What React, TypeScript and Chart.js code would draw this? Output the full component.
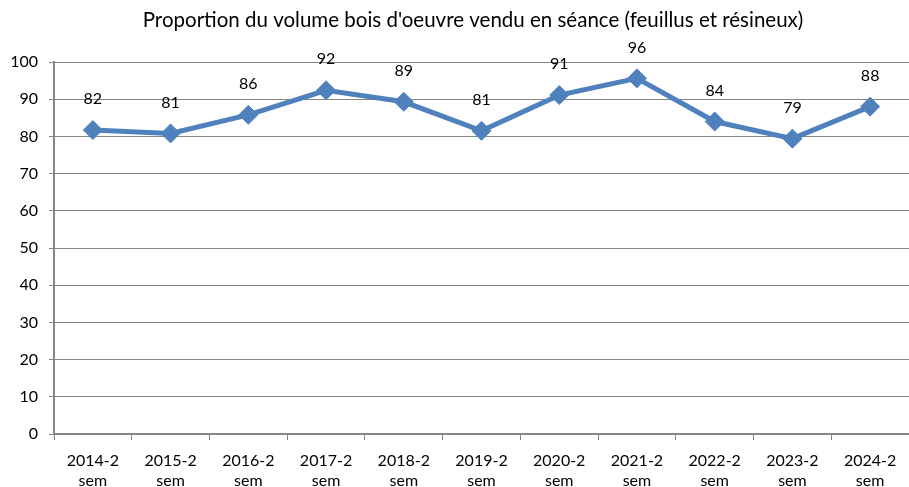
import React, { useEffect, useRef } from "react";
import { Chart, registerables } from "chart.js";

Chart.register(...registerables);

const TITLE = "Proportion du volume bois d'oeuvre vendu en séance (feuillus et résineux)";
const CATEGORIES = ["2014-2", "2015-2", "2016-2", "2017-2", "2018-2", "2019-2", "2020-2", "2021-2", "2022-2", "2023-2", "2024-2"];
const CATEGORY_SUFFIX = "sem";
const VALUES = [81.7, 80.8, 85.8, 92.4, 89.3, 81.5, 91.1, 95.6, 84.0, 79.4, 88.0];
const LABELS = ["82", "81", "86", "92", "89", "81", "91", "96", "84", "79", "88"];

const FONT = "Lato, 'Liberation Sans', Arial, sans-serif";
const BLUE = "#4F81BD";
const GRID = "#868686";
const PLOT_RIGHT = 909;

const labelPlugin = {
  id: "pointLabels",
  afterDatasetsDraw(chart: any) {
    const ctx = chart.ctx;
    const meta = chart.getDatasetMeta(0);
    ctx.save();
    ctx.font = `16px ${FONT}`;
    ctx.fillStyle = "#000";
    ctx.textAlign = "center";
    ctx.textBaseline = "middle";
    meta.data.forEach((pt: any, i: number) => {
      ctx.fillText(LABELS[i], pt.x, pt.y - 31);
    });
    ctx.restore();
  },
};

const titlePlugin = {
  id: "customTitle",
  afterDraw(chart: any) {
    const ctx = chart.ctx;
    ctx.save();
    ctx.font = `20.5px ${FONT}`;
    ctx.fillStyle = "#000";
    ctx.textAlign = "center";
    ctx.textBaseline = "middle";
    ctx.fillText(TITLE, 473, 20);
    ctx.restore();
  },
};

const stretchPlugin = {
  id: "stretchRight",
  afterLayout(chart: any) {
    const ca = chart.chartArea;
    ca.right = PLOT_RIGHT;
    ca.width = ca.right - ca.left;
    const x = chart.scales.x;
    x.right = PLOT_RIGHT;
    x.width = x.right - x.left;
    x.configure();
  },
};

export default function App() {
  const ref = useRef<HTMLCanvasElement>(null);
  useEffect(() => {
    if (!ref.current) return;
    const chart = new Chart(ref.current, {
      type: "line",
      data: {
        labels: CATEGORIES.map((c) => [c, CATEGORY_SUFFIX]),
        datasets: [
          {
            data: VALUES,
            borderColor: BLUE,
            backgroundColor: BLUE,
            borderWidth: 5,
            pointStyle: "rectRot",
            pointRadius: 9.5,
            pointHoverRadius: 9.5,
            pointBackgroundColor: BLUE,
            pointBorderColor: BLUE,
            pointBorderWidth: 1,
            tension: 0,
          },
        ],
      },
      options: {
        animation: false,
        responsive: false,
        maintainAspectRatio: false,
        layout: { padding: { top: 62, right: 0, left: 0, bottom: 0 } },
        plugins: {
          legend: { display: false },
          tooltip: { enabled: false },
          title: { display: false },
        },
        scales: {
          x: {
            offset: true,
            afterFit: (scale: any) => {
              scale.height = 53;
              scale.paddingLeft = 0;
              scale.paddingRight = 0;
            },
            grid: {
              offset: true,
              drawOnChartArea: false,
              drawTicks: true,
              tickLength: 6,
              color: GRID,
            },
            border: { color: GRID, width: 2 },
            ticks: {
              color: "#000",
              font: { family: FONT, size: 16, lineHeight: 1.25 },
              padding: 11,
              maxRotation: 0,
              autoSkip: false,
            },
          },
          y: {
            min: 0,
            max: 100,
            afterFit: (scale: any) => {
              scale.width = 54;
              scale.paddingTop = 0;
              scale.paddingBottom = 0;
            },
            grid: { color: GRID, tickLength: 5, lineWidth: 1 },
            border: { color: GRID, width: 2 },
            ticks: {
              stepSize: 10,
              color: "#000",
              font: { family: FONT, size: 16 },
              padding: 11,
            },
          },
        },
      },
      plugins: [stretchPlugin, labelPlugin, titlePlugin],
    });
    return () => chart.destroy();
  }, []);
  return (
    <div style={{ position: "fixed", left: 0, top: 0, width: 909, height: 487, background: "#fff" }}>
      <canvas ref={ref} width={909} height={487} style={{ width: 909, height: 487 }} />
    </div>
  );
}
